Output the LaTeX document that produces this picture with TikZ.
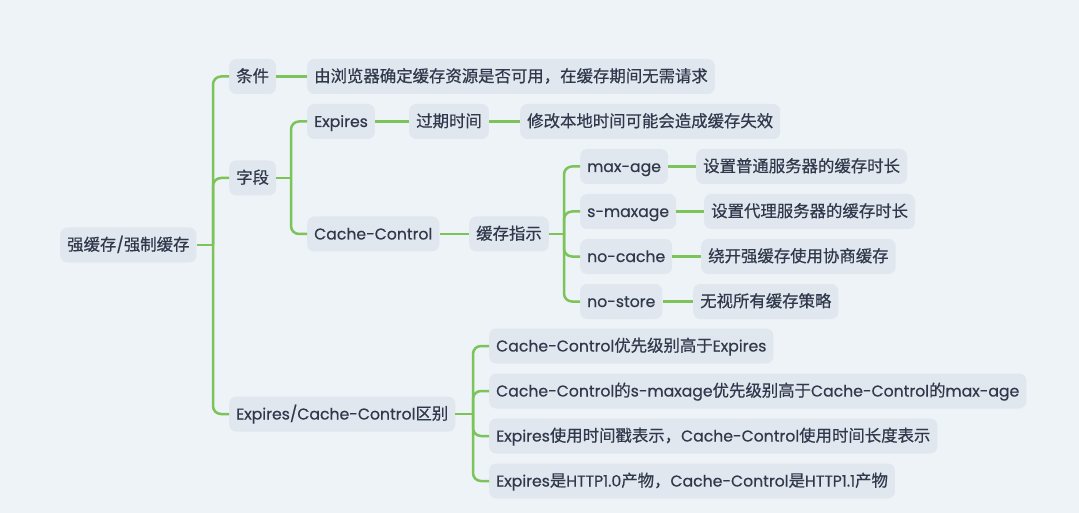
\documentclass[tikz,border=0pt]{standalone}
\usepackage{fontspec}
\setmainfont{Poppins}[Scale=0.955,FakeBold=0.5]
\newfontfamily\cjkfont{Noto Sans CJK SC}[FakeBold=0.5]
\newcommand\zh[1]{{\cjkfont #1}}
\definecolor{bgcol}{HTML}{EDF3F7}
\definecolor{nodefill}{HTML}{E1E7EF}
\definecolor{textcol}{HTML}{2F394B}
\definecolor{linegreen}{HTML}{7CC35A}
\begin{document}
\begin{tikzpicture}[x=1pt,y=-1pt,
  box/.style={fill=nodefill, rounded corners=7pt, minimum height=35pt,
    inner xsep=7pt, inner ysep=0pt, anchor=west, text=textcol,
    text height=13pt, text depth=2pt,
    font=\fontsize{16.4}{20}\selectfont},
  conn/.style={draw=linegreen, line width=2.5pt, rounded corners=8pt}]
\fill[bgcol] (0,0) rectangle (1079,513);
\useasboundingbox (0,0) rectangle (1079,513);

% nodes
\node[box] (root) at (60,245) {\zh{强缓存}/\zh{强制缓存}};
\node[box] (tj) at (229,76.5) {\zh{条件}};
\node[box] (tjt) at (307,76.5) {\zh{由浏览器确定缓存资源是否可用，在缓存期间无需请求}};
\node[box] (zd) at (229,178) {\zh{字段}};
\node[box] (exp) at (307,121.5) {Expires};
\node[box] (gq) at (409,121.5) {\zh{过期时间}};
\node[box] (xg) at (520,121.5) {\zh{修改本地时间可能会造成缓存失效}};
\node[box] (cc) at (307,234) {Cache-Control};
\node[box] (hz) at (469,234) {\zh{缓存指示}};
\node[box] (ma) at (580,166.5) {max-age};
\node[box] (mat) at (696,166.5) {\zh{设置普通服务器的缓存时长}};
\node[box] (sm) at (580,211.5) {s-maxage};
\node[box] (smt) at (704,211.5) {\zh{设置代理服务器的缓存时长}};
\node[box] (nc) at (580,256.5) {no-cache};
\node[box] (nct) at (701,256.5) {\zh{绕开强缓存使用协商缓存}};
\node[box] (ns) at (580,301.5) {no-store};
\node[box] (nst) at (693,301.5) {\zh{无视所有缓存策略}};
\node[box] (qb) at (229,414) {Expires/Cache-Control\zh{区别}};
\node[box] (d1) at (489,346) {Cache-Control\zh{优先级别高于}Expires};
\node[box] (d2) at (489,391) {Cache-Control\zh{的}s-maxage\zh{优先级别高于}Cache-Control\zh{的}max-age};
\node[box] (d3) at (489,436) {Expires\zh{使用时间戳表示，}Cache-Control\zh{使用时间长度表示}};
\node[box] (d4) at (489,481) {Expires\zh{是}HTTP1.0\zh{产物，}Cache-Control\zh{是}HTTP1.1\zh{产物}};

% junctions
\coordinate (j0) at (213,245);
\coordinate (j1) at (291,178);
\coordinate (j2) at (564,234);
\coordinate (j3) at (473,414);

% connectors
\draw[conn] (root.east) -- (j0);
\draw[conn] (j0) |- (tj.west);
\draw[conn] (j0) |- (zd.west);
\draw[conn] (j0) |- (qb.west);
\draw[conn] (tj.east) -- (tjt.west);

\draw[conn] (zd.east) -- (j1);
\draw[conn] (j1) |- (exp.west);
\draw[conn] (j1) |- (cc.west);
\draw[conn] (exp.east) -- (gq.west);
\draw[conn] (gq.east) -- (xg.west);
\draw[conn] (cc.east) -- (hz.west);

\draw[conn] (hz.east) -- (j2);
\draw[conn] (j2) |- (ma.west);
\draw[conn] (j2) |- (sm.west);
\draw[conn] (j2) |- (nc.west);
\draw[conn] (j2) |- (ns.west);
\draw[conn] (ma.east) -- (mat.west);
\draw[conn] (sm.east) -- (smt.west);
\draw[conn] (nc.east) -- (nct.west);
\draw[conn] (ns.east) -- (nst.west);

\draw[conn] (qb.east) -- (j3);
\draw[conn] (j3) |- (d1.west);
\draw[conn] (j3) |- (d2.west);
\draw[conn] (j3) |- (d3.west);
\draw[conn] (j3) |- (d4.west);
\end{tikzpicture}
\end{document}
